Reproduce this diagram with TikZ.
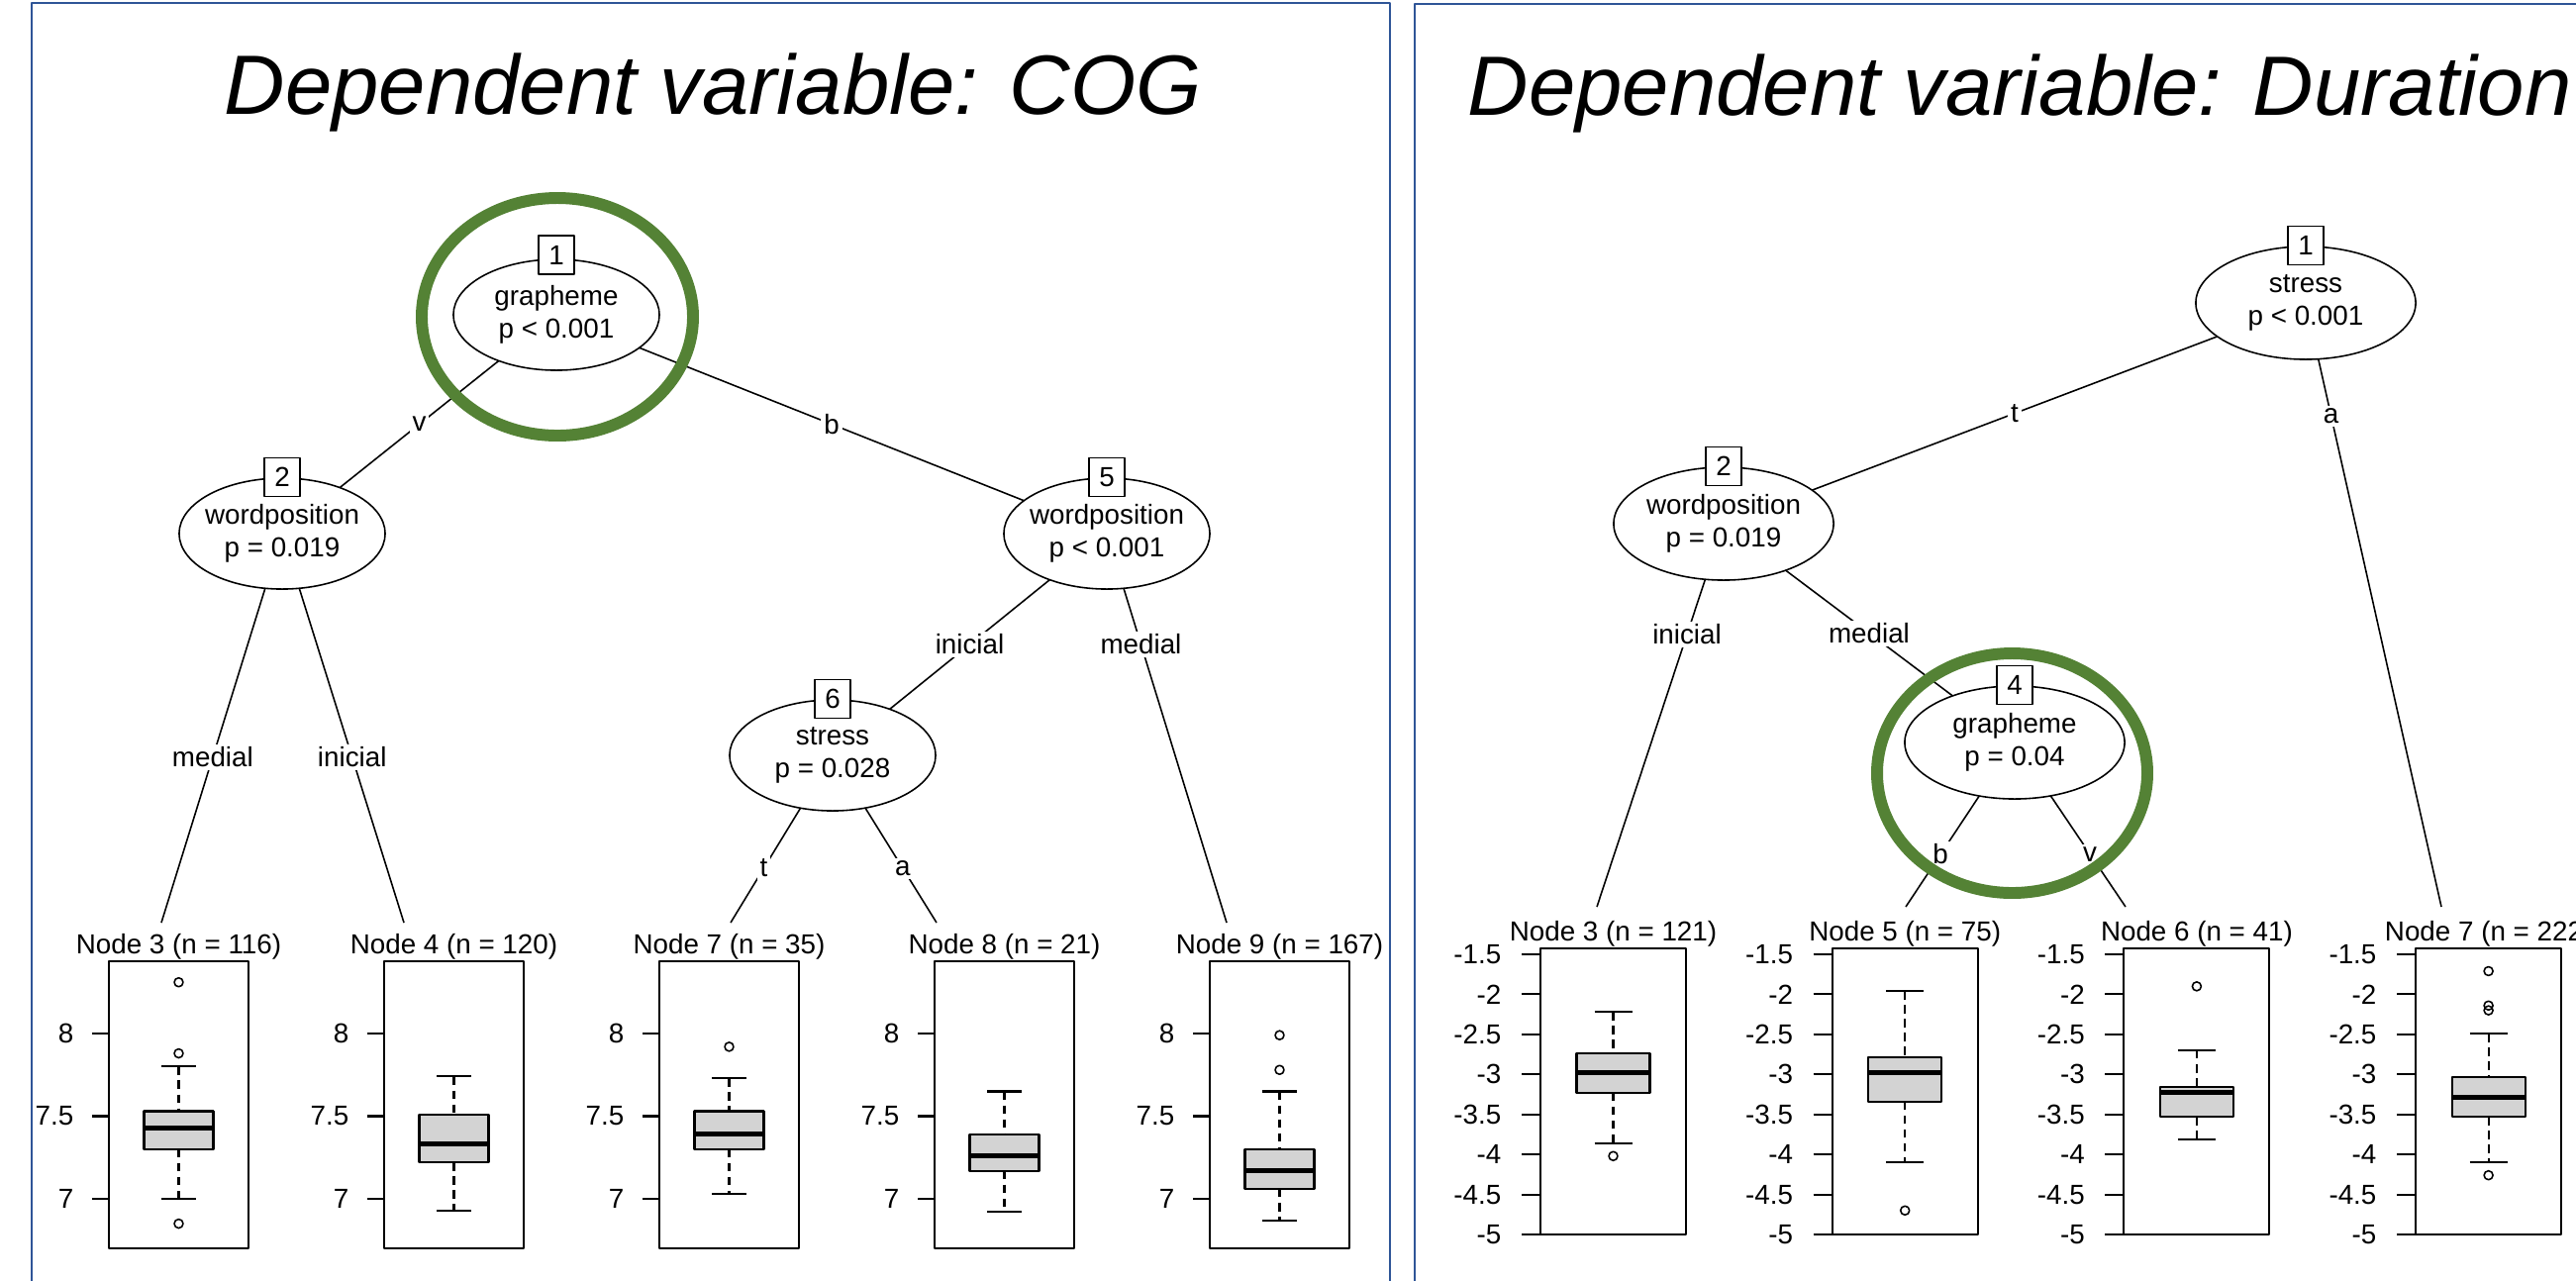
\documentclass[tikz,border=0pt]{standalone}
\usepackage{fontspec}
\setmainfont{Liberation Sans}
\usetikzlibrary{shapes.geometric,backgrounds}
\definecolor{panelblue}{RGB}{47,85,151}
\definecolor{ringgreen}{RGB}{84,130,53}
\definecolor{boxgray}{RGB}{211,211,211}
\begin{document}
\begin{tikzpicture}[x=0.01cm, y=-0.01cm, line join=round,
    font=\fontsize{7.9pt}{9.4pt}\selectfont,
    declare function={ly(\v)=2380-167*\v; ry(\v)=842.7-80.86*\v;},
    split/.style={ellipse, draw, fill=white, line width=0.45pt, align=center,
        inner xsep=-2pt, inner ysep=0pt, minimum width=2.08cm, minimum height=1.12cm},
    splitr/.style={split, minimum width=2.22cm, minimum height=1.14cm},
    idbox/.style={draw, fill=white, line width=0.45pt, inner sep=0pt,
        minimum width=0.36cm, minimum height=0.39cm},
    elab/.style={fill=white, inner sep=0.8pt},
    edge/.style={line width=0.45pt},
    panel/.style={draw=panelblue, line width=0.75pt},
    ring/.style={draw=ringgreen, line width=3.4pt},
    title/.style={font=\fontsize{24.2pt}{29pt}\selectfont\itshape, anchor=base west, inner sep=0pt},
    nlab/.style={anchor=base, inner sep=0pt},
    tlab/.style={anchor=east, inner sep=0pt},
    frame/.style={draw, line width=0.6pt},
    iqr/.style={draw, fill=boxgray, line width=0.6pt},
    whisk/.style={line width=0.6pt, dash pattern=on 2.4pt off 1.6pt},
    capline/.style={line width=0.6pt},
    med/.style={line width=1.4pt},
    outl/.style={line width=0.45pt}]
\useasboundingbox (0,0) rectangle (2602,1293);
\clip (0,0) rectangle (2602,1293);
% panels and titles
\draw[panel] (32,1300) -- (32,3) -- (1404,3) -- (1404,1300);
\draw[panel] (1429,1300) -- (1429,4) -- (2610,4);
\node[title] (ttl) at (226,115) {Dependent variable: COG};
\node[title] (ttr) at (1482,116) {Dependent variable: Duration};

% COG tree
\node[split] (g1) at (562,318) {grapheme\\p < 0.001};
\node[split] (g2) at (285,539) {wordposition\\p = 0.019};
\node[split] (g5) at (1118,539) {wordposition\\p < 0.001};
\node[split] (g6) at (841,763) {stress\\p = 0.028};
\node[idbox] (b1) at ([yshift=1pt]g1.north) {1};
\node[idbox] (b2) at (g2.north) {2};
\node[idbox] (b5) at (g5.north) {5};
\node[idbox] (b6) at (g6.north) {6};
\coordinate (c3) at (163,932);
\coordinate (c4) at (408,932);
\coordinate (c7) at (738,932);
\coordinate (c8) at (946,932);
\coordinate (c9) at (1239,932);

% Duration tree
\node[splitr] (r1) at (2329,306) {stress\\p < 0.001};
\node[splitr] (r2) at (1741,529) {wordposition\\p = 0.019};
\node[splitr] (r4) at (2035,750) {grapheme\\p = 0.04};
\node[idbox] (s1) at (r1.north) {1};
\node[idbox] (s2) at (r2.north) {2};
\node[idbox] (s4) at (r4.north) {4};
\coordinate (d3) at (1613,916);
\coordinate (d5) at (1925,916);
\coordinate (d6) at (2147,916);
\coordinate (d7) at (2466,916);

\begin{pgfonlayer}{background}
\draw[edge] (g1.center) -- node[elab] (e12) {v} (g2.center);
\draw[edge] (g1.center) -- node[elab] (e15) {b} (g5.center);
\draw[edge] (g2.center) -- node[elab, pos=.575] (e23) {medial} (c3);
\draw[edge] (g2.center) -- node[elab, pos=.575] (e24) {inicial} (c4);
\draw[edge] (g5.center) -- node[elab] (e56) {inicial} (g6.center);
\draw[edge] (g5.center) -- node[elab, pos=.285] (e59) {medial} (c9);
\draw[edge] (g6.center) -- node[elab, pos=.675] (e67) {t} (c7);
\draw[edge] (g6.center) -- node[elab, pos=.675] (e68) {a} (c8);
\draw[edge] (r1.center) -- node[elab] (f12) {t} (r2.center);
\draw[edge] (r1.center) -- node[elab, pos=.187] (f17) {a} (d7);
\draw[edge] (r2.center) -- node[elab, pos=.289] (f23) {inicial} (d3);
\draw[edge] (r2.center) -- node[elab] (f24) {medial} (r4.center);
\draw[edge] (r4.center) -- node[elab, pos=.68] (f45) {b} (d5);
\draw[edge] (r4.center) -- node[elab, pos=.68] (f46) {v} (d6);
\end{pgfonlayer}

% COG terminal boxplots
\foreach \i/\k/\nn/\wt/\qt/\md/\qb/\wb in {0/3/116/7.80/7.53/7.43/7.30/7.00,
    1/4/120/7.74/7.51/7.33/7.22/6.93, 2/7/35/7.73/7.53/7.39/7.30/7.03,
    3/8/21/7.65/7.39/7.26/7.17/6.92, 4/9/167/7.65/7.30/7.17/7.06/6.87}{
  \pgfmathsetmacro\xl{110+278*\i}
  \pgfmathsetmacro\xc{\xl+70.5}
  \node[nlab] (lt\k) at (\xc,963) {Node \k\ (n = \nn)};
  \draw[frame] (\xl,971) rectangle (\xl+141,1261);
  \foreach \v [count=\j] in {7,7.5,8}{
    \draw[capline] (\xl-17,{ly(\v)}) -- (\xl,{ly(\v)});
    \node[tlab] (lk\i\j) at (\xl-35,{ly(\v)}) {\v};
  }
  \draw[whisk] (\xc,{ly(\wt)}) -- (\xc,{ly(\qt)}) (\xc,{ly(\qb)}) -- (\xc,{ly(\wb)});
  \draw[capline] (\xc-17.5,{ly(\wt)}) -- (\xc+17.5,{ly(\wt)})
                 (\xc-17.5,{ly(\wb)}) -- (\xc+17.5,{ly(\wb)});
  \draw[iqr] (\xc-35,{ly(\qt)}) rectangle (\xc+35,{ly(\qb)});
  \draw[med] (\xc-35,{ly(\md)}) -- (\xc+35,{ly(\md)});
}
\foreach \i/\v in {0/8.31,0/7.88,0/6.85,2/7.92,4/7.99,4/7.78}
  \draw[outl] ({180.5+278*\i},{ly(\v)}) circle (4.5);

% Duration terminal boxplots
\foreach \i/\k/\nn/\wt/\qt/\md/\qb/\wb in {0/3/121/-2.22/-2.74/-2.98/-3.23/-3.86,
    1/5/75/-1.96/-2.79/-2.98/-3.34/-4.10, 2/6/41/-2.70/-3.16/-3.23/-3.53/-3.81,
    3/7/222/-2.49/-3.03/-3.29/-3.53/-4.10}{
  \pgfmathsetmacro\xl{1556+294.7*\i}
  \pgfmathsetmacro\xc{\xl+73.5}
  \node[nlab] (rt\k) at (\xc,950) {Node \k\ (n = \nn)};
  \draw[frame] (\xl,958) rectangle (\xl+147,1247);
  \foreach \v [count=\j] in {-1.5,-2,-2.5,-3,-3.5,-4,-4.5,-5}{
    \draw[capline] (\xl-19,{ry(\v)}) -- (\xl,{ry(\v)});
    \node[tlab] (rk\i\j) at (\xl-39,{ry(\v)}) {\v};
  }
  \draw[whisk] (\xc,{ry(\wt)}) -- (\xc,{ry(\qt)}) (\xc,{ry(\qb)}) -- (\xc,{ry(\wb)});
  \draw[capline] (\xc-19,{ry(\wt)}) -- (\xc+19,{ry(\wt)})
                 (\xc-19,{ry(\wb)}) -- (\xc+19,{ry(\wb)});
  \draw[iqr] (\xc-37,{ry(\qt)}) rectangle (\xc+37,{ry(\qb)});
  \draw[med] (\xc-37,{ry(\md)}) -- (\xc+37,{ry(\md)});
}
\foreach \i/\v in {0/-4.02,1/-4.70,2/-1.90,3/-1.71,3/-2.14,3/-2.20,3/-4.26}
  \draw[outl] ({1629.5+294.7*\i},{ry(\v)}) circle (4.5);

% highlight rings
\draw[ring] (563,320) ellipse [x radius=137, y radius=120];
\draw[ring] (2032.5,781) ellipse [x radius=136.5, y radius=121];
\end{tikzpicture}
\end{document}
